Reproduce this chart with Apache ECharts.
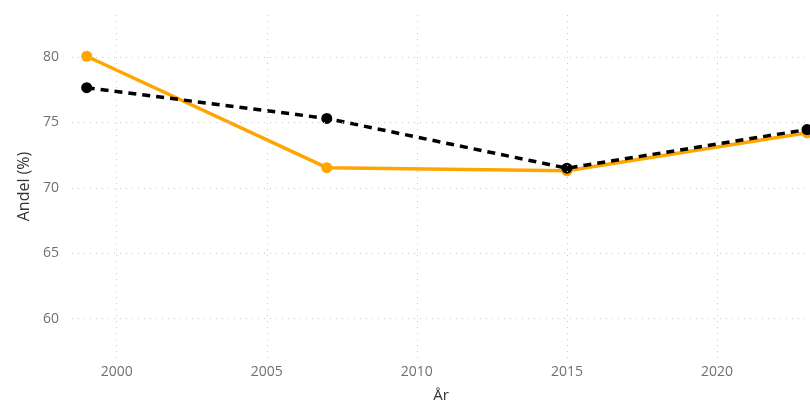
<!DOCTYPE html>
<html><head><meta charset="utf-8">
<script src="https://cdn.jsdelivr.net/npm/echarts@6/dist/echarts.min.js"></script>
<style>html,body{margin:0;padding:0;background:#fff}#c{width:810px;height:404px}</style>
</head><body><div id="c"></div>
<script>
const years = [1999, 2007, 2015, 2023];
const orangeValues = [80.05, 71.54, 71.3, 74.2];
const blackValues = [77.65, 75.3, 71.5, 74.45];
const xTicks = [2000, 2005, 2010, 2015, 2020];
const yTicks = [60, 65, 70, 75, 80];

const chart = echarts.init(document.getElementById('c'), null, {renderer: 'canvas'});
const font = "'Open Sans', 'Noto Sans', sans-serif";
chart.setOption({
  animation: false,
  grid: {left: 72, right: 0, top: 15, bottom: 46, containLabel: false, outerBoundsMode: 'none'},
  xAxis: {
    type: 'value', min: 1998.51, max: 2023.1,
    name: 'År', nameLocation: 'middle', nameGap: 30,
    nameTextStyle: {color: '#333', fontSize: 15, fontFamily: font},
    axisLine: {show: false}, axisTick: {show: false},
    axisLabel: {customValues: xTicks, color: '#707070', fontSize: 14, fontFamily: font, margin: 7, formatter: v => String(v)},
    splitLine: {show: false}
  },
  yAxis: {
    type: 'value', min: 57, max: 83.2,
    name: 'Andel (%)', nameLocation: 'middle', nameGap: 37,
    nameTextStyle: {color: '#333', fontSize: 16, fontFamily: font},
    axisLine: {show: false}, axisTick: {show: false},
    axisLabel: {customValues: yTicks, color: '#707070', fontSize: 14, fontFamily: font, margin: 13},
    splitLine: {show: false}
  },
  series: [
    {
      type: 'line', data: [], silent: true,
      markLine: {
        silent: true, symbol: 'none', label: {show: false},
        lineStyle: {type: [1, 5], color: '#c8c8c8', width: 1},
        data: xTicks.map(v => ({xAxis: v})).concat(yTicks.map(v => ({yAxis: v})))
      }
    },
    {
      type: 'line', data: years.map((y, i) => [y, orangeValues[i]]),
      color: '#FFA500', lineStyle: {width: 3.5, color: '#FFA500'},
      symbol: 'circle', symbolSize: 11, itemStyle: {color: '#FFA500'}, z: 3
    },
    {
      type: 'line', data: years.map((y, i) => [y, blackValues[i]]),
      color: '#000', lineStyle: {width: 3.5, color: '#000', type: [8, 6]},
      symbol: 'circle', symbolSize: 11, itemStyle: {color: '#000'}, z: 4
    }
  ]
});
</script></body></html>
